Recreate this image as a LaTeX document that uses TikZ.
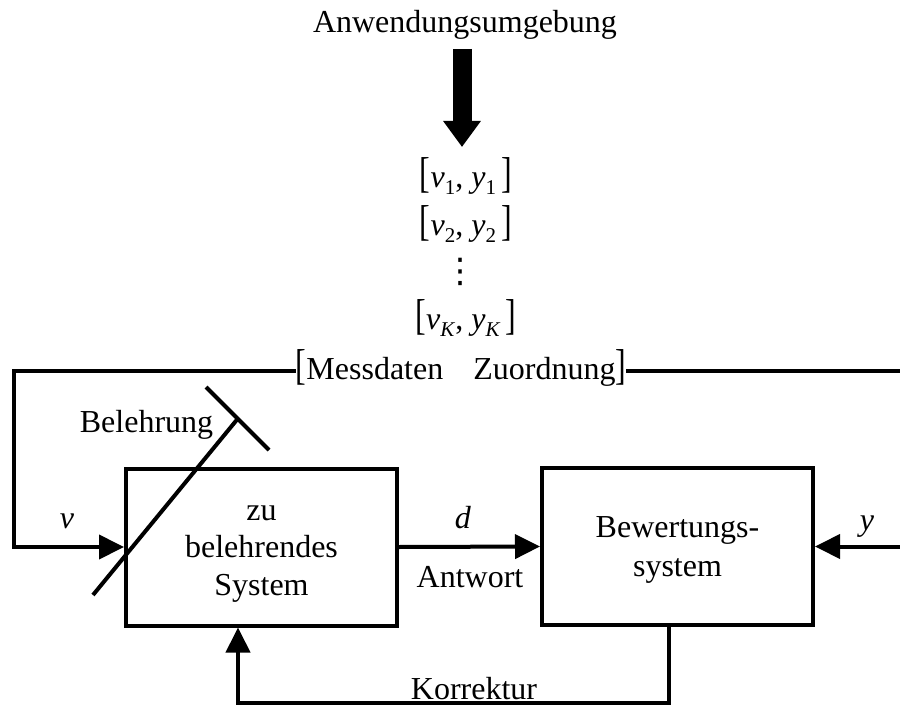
\documentclass[tikz,border=0pt]{standalone}
\usepackage{fontspec}
\setmainfont{Liberation Serif}
\newfontfamily\symfont{DejaVu Sans}
\usepackage{graphicx}
\usetikzlibrary{arrows.meta}

% tall square brackets for the data pairs
\newcommand{\lbrk}{\scalebox{1}[1.35]{[}}
\newcommand{\rbrk}{\scalebox{1}[1.35]{]}}
% lowered index
\newcommand{\idx}[1]{\raisebox{-7pt}{\fontsize{21}{21}\selectfont #1}}
\newcommand{\pairrow}[1]{\lbrk\textit{v}\idx{#1}, \textit{y}\idx{#1}\,\rbrk}
% struts that centre the box labels
\newcommand{\firststrut}{\rule{0pt}{31pt}}
\newcommand{\laststrut}{\rule[-10pt]{0pt}{10pt}}

\tikzset{
  conn/.style={line width=4pt},
  arr/.style={conn, -{Triangle[length=25pt,width=24pt]}},
  blockbox/.style={draw, line width=4pt, minimum width=271pt, minimum height=157pt,
                   inner sep=0pt, align=center},
  lbl/.style={anchor=base, inner sep=0pt},
}

\begin{document}
\begin{tikzpicture}[x=1pt, y=-1pt, font=\fontsize{32}{38}\selectfont]
\useasboundingbox (0,0) rectangle (900,706);

% data source and sample list
\node[lbl] (anw) at (465,33) {Anwendungsumgebung};
\coordinate (a1) at (462,49);
\coordinate (a2) at (462,147);
\draw[line width=19pt, -{Triangle[length=26pt,width=36pt]}] (a1) -- (a2);

\node[lbl] (r1) at (466,187) {\pairrow{1}};
\node[lbl] (r2) at (466,235) {\pairrow{2}};
\node[inner sep=0pt, font=\symfont\fontsize{34}{34}\selectfont] (dots) at (460,272) {⋮};
\node[lbl] (rk) at (466,329) {\pairrow{\textit{K}}};

\node[lbl] (mess) at (461,379) {\lbrk Messdaten\hspace{30pt}Zuordnung\rbrk};

% blocks
\node[blockbox, font=\fontsize{32}{37.5}\selectfont] (sys) at (261.5,547)
  {\firststrut zu\\belehrendes\\System\laststrut};
\node[blockbox, font=\fontsize{32}{39}\selectfont] (bew) at (677.5,546.5)
  {\firststrut Bewertungs-\\system\laststrut};

% training line from the data
\coordinate (tl) at (14,371);
\coordinate (tr) at (900,371);
\draw[conn] (tl -| mess.east) -- (tr);
\draw[arr] (tl -| mess.west) -- (tl) |- (sys.west);
\node[lbl] (vlab) at (67,528) {\textit{v}};

% teaching stroke
\coordinate (s1) at (93,595);
\coordinate (s2) at (237.5,419);
\coordinate (b1) at (206,387);
\coordinate (b2) at (269,450);
\draw[conn] (s1) -- (s2);
\draw[conn] (b1) -- (b2);
\node[lbl] (bel) at (146.5,432) {Belehrung};

% response
\draw[arr] (sys.east) -- (bew.west);
\node[lbl] (dlab) at (463,528) {\textit{d}};
\node[lbl] (ant) at (470,587) {Antwort};

% reference input
\coordinate (yin) at (900,546.5);
\draw[arr] (yin) -- (bew.east);
\node[lbl] (ylab) at (867,530) {\textit{y}};

% correction feedback
\coordinate (kr) at (669,703);
\coordinate (kl) at (238,703);
\draw[arr] (kr |- bew.south) -- (kr) -- (kl) -- (kl |- sys.south);
\node[lbl] (kor) at (474,699) {Korrektur};
\end{tikzpicture}
\end{document}
